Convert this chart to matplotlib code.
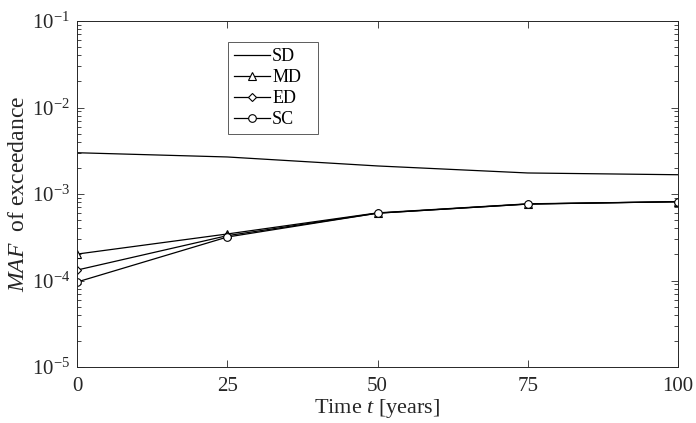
import matplotlib
matplotlib.use("Agg")
import matplotlib.pyplot as plt
import numpy as np
from matplotlib.ticker import LogLocator, NullFormatter, FixedLocator

plt.rcParams['font.family'] = ['Liberation Serif', 'DejaVu Serif']
plt.rcParams['mathtext.fontset'] = 'custom'
plt.rcParams['mathtext.rm'] = 'Liberation Serif'
plt.rcParams['mathtext.it'] = 'Liberation Serif:italic'

years = [0, 25, 50, 75, 100]
sd = [3.0e-3, 2.68e-3, 2.11e-3, 1.75e-3, 1.67e-3]
md = [2.02e-4, 3.45e-4, 6.05e-4, 7.7e-4, 8.15e-4]
ed = [1.32e-4, 3.3e-4, 6.0e-4, 7.65e-4, 8.15e-4]
sc = [9.6e-5, 3.18e-4, 6.0e-4, 7.65e-4, 8.15e-4]
series_labels = ['SD', 'MD', 'ED', 'SC']
xticks = [0, 25, 50, 75, 100]
yticks = [1e-5, 1e-4, 1e-3, 1e-2, 1e-1]
yticklabels = [r'$10^{-5}$', r'$10^{-4}$', r'$10^{-3}$', r'$10^{-2}$', r'$10^{-1}$']

fig = plt.figure(figsize=(6.96, 4.23), dpi=100)
ax = fig.add_axes([77/696, 1-367/423, 601/696, 346/423])

lw = 0.9
ms = 5.5
ax.plot(years, sd, color='black', lw=lw, label=series_labels[0])
ax.plot(years, md, color='black', lw=lw, marker='^', ms=ms, mfc='white', mec='black', mew=0.8, label=series_labels[1])
ax.plot(years, ed, color='black', lw=lw, marker='D', ms=ms*0.75, mfc='white', mec='black', mew=0.8, label=series_labels[2])
ax.plot(years, sc, color='black', lw=lw, marker='o', ms=ms, mfc='white', mec='black', mew=0.8, label=series_labels[3])

ax.set_yscale('log')
ax.set_xlim(0, 100)
ax.set_ylim(1e-5, 1e-1)
ax.set_xticks(xticks)
ax.set_xticklabels([str(v) for v in xticks])
ax.yaxis.set_major_locator(FixedLocator(yticks))
ax.set_yticklabels(yticklabels)
ax.yaxis.set_minor_locator(LogLocator(base=10, subs=np.arange(2, 10)))
ax.yaxis.set_minor_formatter(NullFormatter())

ax.tick_params(which='both', direction='in', top=True, right=True, labelsize=15, colors='#262626')
ax.tick_params(which='major', length=5, width=0.6)
ax.tick_params(which='minor', length=3, width=0.6)
ax.tick_params(axis='x', pad=7)
ax.tick_params(axis='y', pad=5)
for s in ax.spines.values():
    s.set_linewidth(0.7)
    s.set_color('#262626')

ax.set_xlabel(r'Time $\mathit{t}$ [years]', fontsize=16, color='#262626', labelpad=1)
ax.set_ylabel(r'$\mathit{MAF}$  of exceedance', fontsize=17, color='#262626', labelpad=2)

leg = ax.legend(loc='upper left', bbox_to_anchor=(0.251, 0.676, 0.15, 0.264), mode='expand',
                fontsize=13, frameon=True, fancybox=False, edgecolor='#333333', handlelength=2.0,
                handletextpad=0.1, borderpad=0.35, labelspacing=0.22, borderaxespad=0)
leg.get_frame().set_linewidth(0.7)

fig.savefig('out.png', dpi=100)
